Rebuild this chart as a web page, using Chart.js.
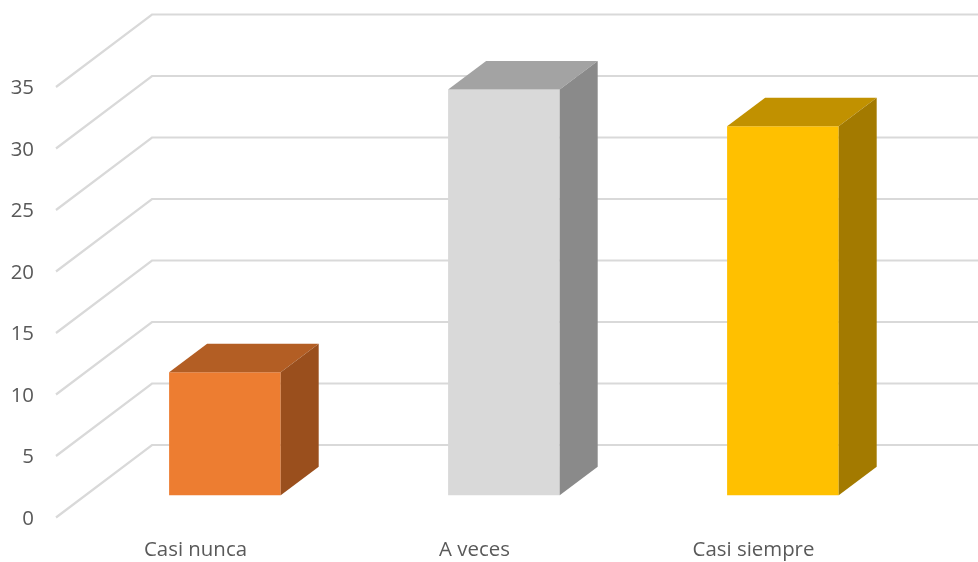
<!DOCTYPE html>
<html lang="es">
<head>
<meta charset="utf-8">
<title>Casi nunca, A veces, Casi siempre</title>
<script src="https://cdn.jsdelivr.net/npm/chart.js@4"></script>
<style>
  html, body { margin: 0; padding: 0; background: #fff; }
  canvas { display: block; }
</style>
</head>
<body>
<canvas id="chart" width="978" height="562"></canvas>
<script>
const categories = ['Casi nunca', 'A veces', 'Casi siempre'];
const seriesValues = [10, 33, 30];

// Shaded faces of each column: front, top, side.
const frontColors = ['#ED7D31', '#D9D9D9', '#FFC000'];
const topColors = ['#B35E24', '#A3A3A3', '#C19100'];
const sideColors = ['#9A4F1D', '#8A8A8A', '#A37A00'];

// Oblique projection used for the pseudo-3D box.
const wallDepth = { x: 96, y: -72.5 };    // front floor edge to back wall
const barOffset = { x: 29.4, y: -22.2 };  // front floor edge to column front
const barDepth = { x: 38, y: -28.5 };     // column thickness

const gridColor = '#D9D9D9';
const textColor = '#595959';
const axisFont = { family: '"Open Sans", sans-serif', size: 20.4 };

// Draws the side and back walls' gridlines behind the columns.
const wallGrid = {
  id: 'wallGrid',
  beforeDatasetsDraw(chart) {
    const { ctx, scales: { y }, chartArea } = chart;
    ctx.save();
    ctx.strokeStyle = gridColor;
    ctx.lineWidth = 2.2;
    ctx.lineJoin = 'miter';
    y.ticks.forEach(tick => {
      const py = y.getPixelForValue(tick.value);
      ctx.beginPath();
      ctx.moveTo(chartArea.left, py);
      ctx.lineTo(chartArea.left + wallDepth.x, py + wallDepth.y);
      ctx.lineTo(chartArea.right + wallDepth.x, py + wallDepth.y);
      ctx.stroke();
    });
    ctx.restore();
  }
};

// Moves the columns into the box and adds their top and side faces.
const columnBox = {
  id: 'columnBox',
  beforeDatasetDraw(chart) {
    chart.ctx.save();
    chart.ctx.translate(barOffset.x, barOffset.y);
  },
  afterDatasetDraw(chart, args) {
    const { ctx } = chart;
    args.meta.data.forEach((bar, i) => {
      const { x, y, base, width } = bar.getProps(['x', 'y', 'base', 'width'], true);
      const left = x - width / 2;
      const right = x + width / 2;

      ctx.fillStyle = topColors[i];
      ctx.beginPath();
      ctx.moveTo(left, y);
      ctx.lineTo(left + barDepth.x, y + barDepth.y);
      ctx.lineTo(right + barDepth.x, y + barDepth.y);
      ctx.lineTo(right, y);
      ctx.closePath();
      ctx.fill();

      ctx.fillStyle = sideColors[i];
      ctx.beginPath();
      ctx.moveTo(right, y);
      ctx.lineTo(right + barDepth.x, y + barDepth.y);
      ctx.lineTo(right + barDepth.x, base + barDepth.y);
      ctx.lineTo(right, base);
      ctx.closePath();
      ctx.fill();
    });
    ctx.restore();
  }
};

// White page behind the whole chart.
const pageBackground = {
  id: 'pageBackground',
  beforeDraw(chart) {
    const { ctx, width, height } = chart;
    ctx.save();
    ctx.fillStyle = '#fff';
    ctx.fillRect(0, 0, width, height);
    ctx.restore();
  }
};

new Chart(document.getElementById('chart'), {
  type: 'bar',
  data: {
    labels: categories,
    datasets: [{
      data: seriesValues,
      backgroundColor: frontColors,
      borderWidth: 0,
      barPercentage: 0.4,
      categoryPercentage: 1,
      clip: false
    }]
  },
  plugins: [pageBackground, wallGrid, columnBox],
  options: {
    responsive: false,
    animation: false,
    layout: { padding: { top: 87, right: 85, bottom: 0, left: 0 } },
    plugins: { legend: { display: false }, tooltip: { enabled: false } },
    scales: {
      x: {
        grid: { display: false, drawTicks: false },
        border: { display: false },
        ticks: { color: textColor, font: axisFont, padding: 20, maxRotation: 0 },
        afterFit(scale) { scale.height = 44.5; }
      },
      y: {
        min: 0,
        max: 35,
        grid: { display: false, drawTicks: false },
        border: { display: false },
        ticks: { stepSize: 5, color: textColor, font: axisFont, padding: 22, labelOffset: 1.5 },
        afterFit(scale) { scale.width = 56; }
      }
    }
  }
});
</script>
</body>
</html>
